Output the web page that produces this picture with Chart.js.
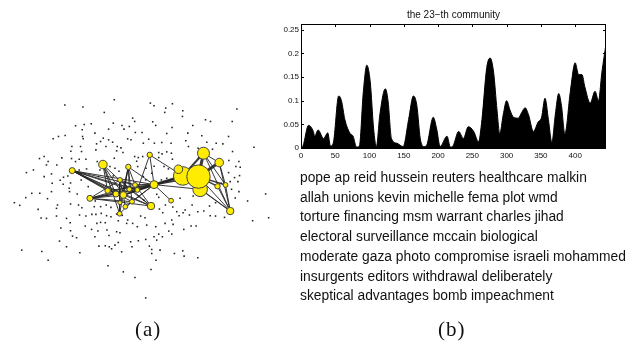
<!DOCTYPE html>
<html>
<head>
<meta charset="utf-8">
<script src="https://cdn.jsdelivr.net/npm/chart.js@4.4.1/dist/chart.umd.min.js"></script>
<style>
  body { margin: 0; width: 634px; height: 346px; background: #fff; position: relative; overflow: hidden;
         font-family: "Liberation Sans", Arial, sans-serif; color: #111; }
  #net { position: absolute; left: -13px; top: 77px; }
  #prof { position: absolute; left: 270px; top: 0; }
  .title { position: absolute; left: 301px; width: 305px; top: 9px; text-align: center; font-size: 10px; }
  .words { position: absolute; left: 300px; top: 168px; font-size: 13.8px; line-height: 19.7px; white-space: nowrap; }
  .cap { position: absolute; top: 317px; font-family: "Liberation Serif", serif; font-size: 21px; letter-spacing: 1px; }
</style>
</head>
<body>
<canvas id="net" width="296" height="246"></canvas>
<canvas id="prof" width="345" height="165"></canvas>
<div class="title">the 23&minus;th community</div>
<div class="words" id="words"></div>
<div class="cap" style="left:135px">(a)</div>
<div class="cap" style="left:438px">(b)</div>
<script>
// word graph: background words (dots), community members (nodes) and their links
const dots = [
  [343,30],[195,46],[249,52],[451,40],[462,48],[517,42],[497,55],[548,63],[710,58],[313,68],
  [494,68],[547,80],[398,85],[404,95],[616,90],[631,95],[696,95],[458,96],[340,100],[274,102],
  [253,104],[227,108],[366,107],[388,110],[467,107],[578,107],[247,120],[326,118],[372,118],[516,113],
  [406,128],[426,128],[285,130],[500,131],[563,130],[196,137],[176,140],[160,147],[248,140],[250,147],
  [326,150],[310,145],[383,147],[393,150],[446,148],[605,138],[685,140],[338,157],[302,155],[290,162],
  [216,170],[242,170],[318,170],[352,170],[363,174],[430,160],[463,160],[485,158],[513,160],[557,153],
  [620,157],[648,160],[668,162],[761,172],[213,184],[245,185],[288,180],[369,188],[350,183],[500,186],
  [514,190],[486,192],[476,188],[565,170],[594,175],[637,178],[697,185],[133,200],[119,206],[186,204],
  [215,206],[238,208],[258,208],[145,215],[292,215],[343,205],[404,200],[415,203],[428,200],[476,203],
  [517,208],[410,214],[686,212],[716,215],[101,240],[80,248],[140,225],[171,225],[227,215],[238,240],
  [260,237],[242,252],[155,252],[133,260],[191,262],[204,258],[181,271],[330,230],[345,235],[357,244],
  [413,230],[438,235],[462,229],[492,230],[505,237],[707,230],[720,232],[685,248],[703,263],[718,257],
  [713,275],[690,275],[663,280],[694,298],[157,280],[190,283],[212,279],[208,295],[244,270],[296,260],
  [317,272],[340,258],[430,260],[437,270],[455,250],[484,270],[500,265],[155,305],[120,310],[143,326],
  [96,310],[78,323],[44,338],[60,346],[209,305],[232,312],[236,345],[286,333],[283,350],[302,350],
  [319,345],[333,352],[416,320],[431,330],[470,313],[476,322],[496,345],[518,351],[540,325],[579,318],
  [576,345],[555,360],[530,365],[593,365],[628,348],[646,338],[705,324],[716,305],[742,333],[170,355],
  [173,345],[212,342],[246,353],[115,358],[140,385],[124,384],[170,378],[200,385],[211,398],[239,375],
  [258,378],[276,373],[288,373],[304,370],[320,377],[333,380],[350,372],[355,392],[367,376],[383,390],
  [398,400],[412,410],[422,378],[435,383],[478,357],[488,368],[515,390],[519,403],[537,377],[549,368],
  [568,375],[573,408],[588,408],[611,363],[630,377],[646,378],[673,382],[757,392],[805,383],[796,312],
  [291,400],[302,397],[316,398],[321,420],[380,400],[440,405],[467,410],[495,400],[476,432],[487,440],
  [506,423],[515,432],[551,418],[183,414],[212,422],[230,443],[256,408],[275,418],[294,423],[350,425],
  [360,428],[285,440],[327,436],[179,453],[218,438],[392,455],[415,452],[437,448],[470,450],[462,440],
  [200,470],[297,468],[316,467],[328,470],[345,465],[355,457],[396,470],[448,468],[66,480],[126,484],
  [240,488],[335,476],[365,485],[455,478],[455,490],[480,480],[548,482],[552,498],[523,490],[145,510],
  [468,510],[593,503],[324,527],[370,545],[453,538],[405,562],[437,623],[595,205],[265,290],[300,240]
];

// community members: x, y, radius (px)
const nodes = [
  [217,242,3.0],[309,224,4.3],[385,231,2.7],[449,195,2.7],[270,325,3.0],
  [323,302,2.7],[348,312,3.0],[360,270,2.4],[370,315,3.4],[388,298,2.4],
  [405,285,2.4],[412,300,2.4],[396,335,2.4],[376,350,2.4],[360,338,2.0],
  [359,371,2.4],[453,348,3.7],[462,284,4.0],[513,332,2.4],[548,258,9.3],
  [535,238,4.3],[600,298,7.3],[610,190,6.0],[657,218,4.3],[652,289,2.7],
  [676,285,2.4],[690,363,3.7],[595,260,11.7]
];

// links: from, to, line width
const links = [
  [0,5,1],[0,6,1],[0,8,1],[0,9,1],[0,11,1],[0,12,1],[0,16,1],[0,10,1],[0,17,1],
  [4,7,1],[4,8,1],[4,9,1],[4,10,1],[4,11,1],[4,16,1],[4,6,1],[4,12,1],
  [1,5,1],[1,8,1],[1,15,1],[1,9,1],[1,6,1],
  [2,8,1],[2,9,1],[2,14,1],[2,12,1],[2,15,1],[2,10,1],[2,17,1],
  [3,19,1],[3,11,1],[3,17,1],
  [7,8,1],[7,10,1],[7,15,1],[7,16,1],
  [8,17,1.5],[9,17,1.5],[10,17,1.5],[11,17,1],[6,17,1],[12,17,1],[5,17,1],
  [16,10,1],[16,9,1],[16,8,1],
  [17,19,2.5],[17,27,2],[17,18,1],[17,21,1],[8,19,1.5],
  [19,22,2],[27,22,3],[27,23,3],[19,21,2],[27,24,1.5],[27,25,1.5],
  [21,26,1],[27,26,1],[19,26,1],[22,26,1],[23,26,1],[24,26,1],[25,26,1],
  [22,23,1],[22,25,1],[23,25,1],
  [13,8,1],[13,17,1],[14,8,1],[15,12,1]
];

// activity of the community over time
const profX = [0,3,11,18,20,25,33,39,43,47,55,59,64,72,76,81,85,91,96,101,106,110,115,123,127,132,140,149,
  157,164,169,174,179,183,193,198,203,213,218,222,230,237,244,252,259,264,271,276,281,286,290,295,300,305,310,
  317,322,327,332,339,346,351,356,361,366,371,376,380,385,393,400,405,410,414,422,429,434,439,445];
const profY = [0,0.005,0.048,0.035,0.025,0.038,0.02,0.032,0.004,0.01,0.11,0.1,0.06,0.03,0.025,0.002,0.003,0.12,
  0.175,0.14,0.04,0.003,0.07,0.125,0.1,0.02,0.01,0.003,0.06,0.11,0.09,0.02,0.003,0.005,0.065,0.04,0.003,0.025,
  0.002,0.005,0.035,0.02,0.045,0.035,0.013,0.06,0.17,0.19,0.16,0.08,0.03,0.07,0.1,0.08,0.065,0.063,0.075,0.085,
  0.07,0.035,0.055,0.065,0.105,0.06,0.012,0.07,0.115,0.09,0.03,0.12,0.18,0.155,0.155,0.13,0.095,0.12,0.1,0.16,0.22];

const xTicks = [0, 50, 100, 150, 200, 250, 300, 350, 400];
const yTicks = [0, 0.05, 0.1, 0.15, 0.2, 0.25];

const topWords = [
  "pope ap reid hussein reuters healthcare malkin",
  "allah unions kevin michelle fema plot wmd",
  "torture financing msm warrant charles jihad",
  "electoral surveillance mccain biological",
  "moderate gaza photo compromise israeli mohammed",
  "insurgents editors withdrawal deliberately",
  "skeptical advantages bomb impeachment"
];

document.getElementById('words').innerHTML = topWords.join('<br>');

const linkSets = links.map(([a, b, w]) => ({
  type: 'line',
  data: [{ x: nodes[a][0], y: nodes[a][1] }, { x: nodes[b][0], y: nodes[b][1] }],
  showLine: true,
  borderColor: 'rgba(35,35,35,0.9)',
  borderWidth: w,
  pointRadius: 0,
  order: 1
}));

new Chart(document.getElementById('net'), {
  type: 'scatter',
  data: {
    datasets: [
      {
        type: 'bubble',
        data: nodes.map(([x, y, r]) => ({ x, y, r })),
        backgroundColor: '#ffec00',
        borderColor: '#444',
        borderWidth: 1,
        clip: false,
        order: 0
      },
      ...linkSets,
      {
        data: dots.map(([x, y]) => ({ x, y })),
        pointStyle: 'rect',
        pointRadius: 1.1,
        backgroundColor: '#222',
        borderWidth: 0,
        clip: false,
        order: 2
      }
    ]
  },
  options: {
    responsive: false,
    animation: false,
    events: [],
    layout: { padding: 0 },
    plugins: { legend: { display: false }, tooltip: { enabled: false } },
    scales: {
      x: { display: false, min: 0, max: 810 },
      y: { display: false, min: 0, max: 660, reverse: true }
    }
  }
});

// matlab style frame with inward ticks
const boxTicks = {
  id: 'boxTicks',
  afterDraw(chart) {
    const { ctx, chartArea: a, scales: { x, y } } = chart;
    ctx.save();
    ctx.strokeStyle = '#000';
    ctx.lineWidth = 1;
    ctx.strokeRect(a.left + 0.5, a.top + 0.5, a.right - a.left - 1, a.bottom - a.top);
    ctx.beginPath();
    x.ticks.forEach(t => {
      const px = Math.round(x.getPixelForValue(t.value)) + 0.5;
      ctx.moveTo(px, a.bottom); ctx.lineTo(px, a.bottom - 3);
      ctx.moveTo(px, a.top); ctx.lineTo(px, a.top + 3);
    });
    y.ticks.forEach(t => {
      const py = Math.round(y.getPixelForValue(t.value)) + 0.5;
      ctx.moveTo(a.left, py); ctx.lineTo(a.left + 3, py);
      ctx.moveTo(a.right, py); ctx.lineTo(a.right - 3, py);
    });
    ctx.stroke();
    ctx.restore();
  }
};

new Chart(document.getElementById('prof'), {
  type: 'line',
  data: {
    datasets: [{
      data: profX.map((x, i) => ({ x, y: profY[i] })),
      fill: 'origin',
      backgroundColor: '#000',
      borderColor: '#000',
      borderWidth: 1,
      pointRadius: 0,
      cubicInterpolationMode: 'monotone'
    }]
  },
  options: {
    responsive: false,
    animation: false,
    events: [],
    layout: { padding: { top: 24, right: 9, left: 0, bottom: 0 } },
    plugins: { legend: { display: false }, tooltip: { enabled: false } },
    scales: {
      x: {
        type: 'linear', min: 0, max: 445,
        afterFit: s => { s.height = 17; },
        afterBuildTicks: s => { s.ticks = xTicks.map(v => ({ value: v })); },
        ticks: { padding: 3, maxRotation: 0, autoSkip: false, color: '#111',
                 font: { family: 'Liberation Sans', size: 8 } },
        grid: { display: false, drawTicks: false },
        border: { display: false }
      },
      y: {
        min: 0, max: 0.262,
        afterFit: s => { s.width = 31; },
        afterBuildTicks: s => { s.ticks = yTicks.map(v => ({ value: v })); },
        ticks: { padding: 2, color: '#111', callback: v => String(v),
                 font: { family: 'Liberation Sans', size: 8 } },
        grid: { display: false, drawTicks: false },
        border: { display: false }
      }
    }
  },
  plugins: [boxTicks]
});
</script>
</body>
</html>
